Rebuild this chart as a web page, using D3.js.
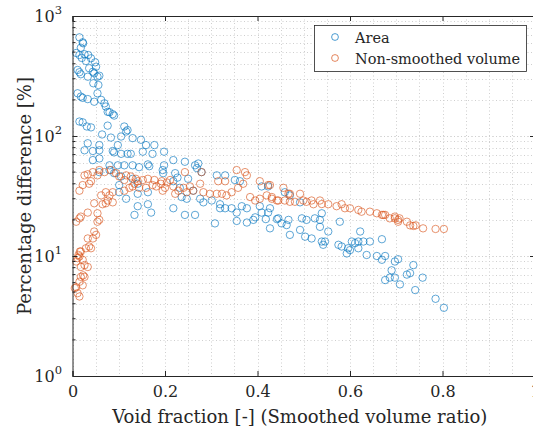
<!DOCTYPE html>
<html>
<head>
<meta charset="utf-8">
<script src="https://cdn.jsdelivr.net/npm/d3@7"></script>
<style>
  body { margin: 0; background: #fff; }
</style>
</head>
<body>
<svg id="chart" width="533" height="433"></svg>
<script>
// Area series: void fraction, percentage difference
const areaX = [0.015,0.022,0.018,0.023,0.008,0.015,0.020,0.026,0.034,0.029,0.040,0.049,0.051,0.044,0.036,0.011,0.015,0.018,0.033,0.047,
  0.058,0.054,0.045,0.056,0.011,0.018,0.022,0.033,0.047,0.054,0.062,0.069,0.072,0.076,0.080,0.087,0.090,0.015,0.022,0.031,
  0.040,0.076,0.064,0.083,0.112,0.119,0.116,0.105,0.130,0.148,0.159,0.177,0.098,0.033,0.058,0.026,0.044,0.058,0.087,0.090,
  0.105,0.119,0.126,0.152,0.173,0.044,0.058,0.080,0.098,0.112,0.130,0.144,0.163,0.166,0.195,0.058,0.080,0.090,0.105,0.130,
  0.141,0.101,0.101,0.141,0.163,0.116,0.141,0.163,0.170,0.134,0.198,0.218,0.243,0.198,0.222,0.227,0.265,0.272,0.269,0.279,
  0.312,0.330,0.196,0.218,0.250,0.232,0.261,0.236,0.247,0.276,0.283,0.301,0.218,0.319,0.319,0.330,0.344,0.366,0.377,0.362,
  0.351,0.409,0.423,0.405,0.409,0.423,0.243,0.265,0.308,0.355,0.377,0.395,0.391,0.418,0.442,0.427,0.355,0.459,0.470,0.492,
  0.427,0.445,0.452,0.467,0.463,0.470,0.496,0.506,0.524,0.539,0.535,0.535,0.492,0.503,0.517,0.553,0.578,0.539,0.546,0.542,
  0.575,0.582,0.596,0.600,0.611,0.604,0.618,0.622,0.629,0.618,0.643,0.669,0.636,0.658,0.676,0.593,0.669,0.704,0.697,0.737,
  0.690,0.730,0.723,0.757,0.697,0.686,0.676,0.708,0.741,0.785,0.803];
const areaY = [664,604,544,592,492,473,447,480,473,422,444,411,378,343,367,355,340,327,312,333,
  318,312,275,266,227,213,208,203,193,227,200,187,176,159,158,152,148,132,130,120,
  118,122,103,97,120,112,109,99,96,93,84,84,84,87,84,76,75,76,75,73,
  71,71,71,74,71,63,65,57,57,57,57,55,58,56,52,50,52,49,46,44,
  40,39,34,33,34,30,26,27,23,22,74,63,61,57,49,45,57,59,54,50,
  47,47,49,42,44,37,35,31,30,30,28,29,25,27,25,25,25,26,25,42,
  43,38,38,26,23,23,22,22,18.7,19.6,19,21,20,20.3,20.3,17,23,34,32,28,
  25,20.6,18.7,20,18.1,15,20.6,20,20.6,22.7,20,17.5,16.5,14.5,14,16,19.3,13.2,13.2,12.4,
  12.4,12,11.6,11.2,12.8,13.2,13.2,16,13.2,11.6,13.2,13.8,10.2,10,10,10.5,9.3,9.4,9.0,8.4,
  7.6,7.2,7.0,6.6,6.6,6.6,6.3,5.8,5.2,4.4,3.7];

// Non-smoothed volume series
const volX = [0.026,0.033,0.044,0.058,0.054,0.069,0.083,0.094,0.101,0.116,0.112,0.126,0.137,0.141,0.134,0.152,0.163,0.177,0.191,0.173,
  0.022,0.036,0.015,0.040,0.062,0.072,0.080,0.087,0.076,0.087,0.112,0.123,0.130,0.144,0.159,0.181,0.195,0.065,0.072,0.047,
  0.033,0.054,0.058,0.054,0.008,0.015,0.018,0.047,0.051,0.044,0.033,0.036,0.040,0.029,0.018,0.015,0.011,0.022,0.008,0.026,
  0.018,0.033,0.018,0.026,0.015,0.022,0.008,0.011,0.015,0.005,0.023,0.016,0.013,0.193,0.204,0.200,0.218,0.229,0.240,0.247,
  0.254,0.261,0.243,0.279,0.276,0.283,0.297,0.312,0.323,0.333,0.344,0.355,0.373,0.377,0.369,0.358,0.384,0.395,0.405,0.420,
  0.431,0.442,0.330,0.315,0.211,0.222,0.405,0.423,0.470,0.456,0.467,0.492,0.431,0.445,0.459,0.470,0.481,0.499,0.506,0.517,
  0.521,0.535,0.539,0.553,0.571,0.582,0.589,0.600,0.618,0.625,0.643,0.658,0.672,0.686,0.697,0.704,0.427,0.669,0.676,0.697,
  0.707,0.704,0.723,0.730,0.737,0.742,0.758,0.785,0.803];
const volY = [47,48,50,52,47,50,52,49,46,47,43,46,44,42,40,43,44,43,40,39,
  39,40,35,42,32,34,32,34,29,28,35,37,38,37,37,38,35,27,27.5,27.5,
  23,22.7,20,19.3,19.3,20.6,21.3,16,15,14,14,12,11.6,11.6,10.9,9.9,9.6,9.3,9.0,8.4,
  8.1,8.1,6.7,6.7,6.1,5.7,5.5,4.9,4.6,5.4,6.9,10.9,10.2,42,41,37,38,35,37,34,
  38,35,50,50,40,34,33,33,33,32,34,52,50,47,40,37,31,29,30,32,
  30,29,42,42,43,33,42,39,33,37,33,33,31,29,29,28.3,28.3,29,28.3,29,
  27,29,27.1,27,26,27,25,25,24.2,23.4,23.4,22.7,22,20.6,20.6,20,39,22,22,21.3,
  20.6,19.3,19.3,18,17.8,18,17,16.8,16.8];

const seriesNames = ["Area", "Non-smoothed volume"];
const seriesColors = ["#0072BD", "#D95319"];
const xTicks = [0, 0.2, 0.4, 0.6, 0.8, 1];
const yTicks = [1, 10, 100, 1000];

const FONT = "DejaVu Serif";
const margin = {left: 72.5, top: 16, right: 535, bottom: 376};

const svg = d3.select("#chart");
const x = d3.scaleLinear().domain([0, 1]).range([margin.left, margin.right]);
const y = d3.scaleLog().domain([1, 1000]).range([margin.bottom, margin.top]);

// grid (dotted, minor + major)
const gx = d3.range(0, 1.0001, 0.05);
const gy = [];
for (let d = 1; d < 1000; d *= 10) for (let k = 1; k <= 10; k++) gy.push(d * k);

const grid = svg.append("g").attr("stroke", "#cfcfcf").attr("stroke-width", 1)
  .attr("stroke-dasharray", "1,2.5");
grid.selectAll("line.gx").data(gx).enter().append("line")
  .attr("x1", d => Math.round(x(d)) + 0.5).attr("x2", d => Math.round(x(d)) + 0.5)
  .attr("y1", margin.top).attr("y2", margin.bottom);
grid.selectAll("line.gy").data(gy).enter().append("line")
  .attr("y1", d => Math.round(y(d)) + 0.5).attr("y2", d => Math.round(y(d)) + 0.5)
  .attr("x1", margin.left).attr("x2", margin.right);

// scatter points
function drawSeries(xs, ys, color) {
  svg.append("g").selectAll("circle").data(xs).enter().append("circle")
    .attr("cx", (d, i) => x(d))
    .attr("cy", (d, i) => y(ys[i]))
    .attr("r", 3.7)
    .attr("fill", "none")
    .attr("stroke", color)
    .attr("stroke-opacity", 0.7)
    .attr("stroke-width", 0.9);
}
drawSeries(areaX, areaY, seriesColors[0]);
drawSeries(volX, volY, seriesColors[1]);

// axes
const xAxis = d3.axisBottom(x).tickValues(xTicks).tickSize(-5).tickFormat(d => d3.format("")(d));
const gxa = svg.append("g").attr("transform", `translate(0,${margin.bottom})`).call(xAxis);
gxa.selectAll("text").attr("dy", "1.15em").attr("font-size", 16);

const xTop = d3.axisTop(x).tickValues(xTicks).tickSize(-5).tickFormat("");
svg.append("g").attr("transform", `translate(0,${margin.top})`).call(xTop);

const yMinor = gy.filter(d => !yTicks.includes(d));
const yAxis = d3.axisLeft(y).tickValues(yTicks).tickSize(-5).tickFormat("");
const gya = svg.append("g").attr("transform", `translate(${margin.left},0)`).call(yAxis);
gya.selectAll(".minor").data(yMinor).enter().append("line")
  .attr("class", "minor").attr("x1", 0).attr("x2", 3)
  .attr("y1", d => y(d)).attr("y2", d => y(d)).attr("stroke", "#262626");

// y tick labels 10^n
yTicks.forEach(d => {
  const t = svg.append("text").attr("x", 62).attr("y", y(d) + 6)
    .attr("text-anchor", "end").attr("font-size", 16);
  t.append("tspan").text("10");
  t.append("tspan").attr("dy", -8).attr("font-size", 11.5).text(Math.round(Math.log10(d)));
});

svg.append("g").attr("transform", `translate(${margin.right},0)`)
  .call(d3.axisRight(y).tickValues(yTicks).tickSize(-5).tickFormat(""));

svg.selectAll(".domain").attr("stroke", "#262626");
svg.selectAll(".tick line").attr("stroke", "#262626");

// axis titles
svg.append("text").attr("x", (margin.left + margin.right) / 2 - 4).attr("y", 423)
  .attr("text-anchor", "middle").attr("font-size", 18)
  .text("Void fraction [-] (Smoothed volume ratio)");
svg.append("text").attr("transform", `translate(31,196) rotate(-90)`)
  .attr("text-anchor", "middle").attr("font-size", 18)
  .text("Percentage difference [%]");

// legend
const lg = svg.append("g");
lg.append("rect").attr("x", 314.5).attr("y", 25.5).attr("width", 212).attr("height", 46)
  .attr("fill", "#fff").attr("stroke", "#262626").attr("stroke-width", 0.8);
seriesNames.forEach((name, i) => {
  const yy = 37 + i * 21;
  lg.append("circle").attr("cx", 335).attr("cy", yy).attr("r", 3.4)
    .attr("fill", "none").attr("stroke", seriesColors[i]).attr("stroke-opacity", 0.7);
  lg.append("text").attr("x", 355).attr("y", yy + 5.5).attr("font-size", 14.5).text(name);
});

svg.selectAll("text").attr("font-family", FONT).attr("fill", "#262626");
svg.selectAll("g").filter(function() { return this.hasAttribute("font-family"); })
  .attr("font-family", FONT);
</script>
</body>
</html>
